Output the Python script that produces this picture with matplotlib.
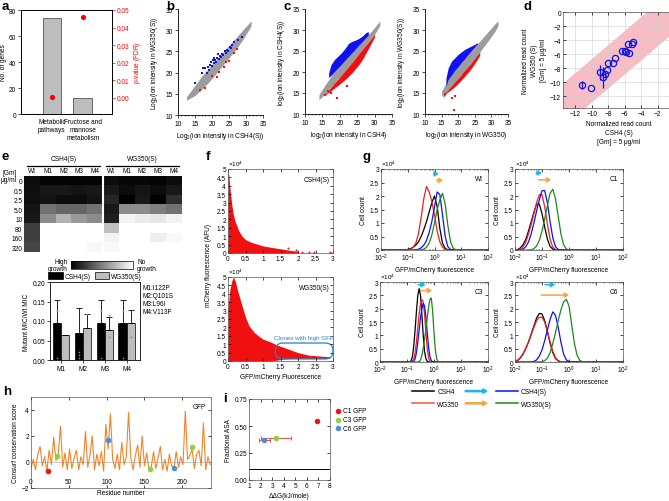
import numpy as np
import matplotlib
matplotlib.use('Agg')
import matplotlib.pyplot as plt
import matplotlib.patches as mpatches
from matplotlib.lines import Line2D
from matplotlib.legend_handler import HandlerPatch
from matplotlib.ticker import FormatStrFormatter, MultipleLocator, LogLocator, NullFormatter

plt.rcParams['font.family'] = ['Liberation Sans', 'DejaVu Sans']
plt.rcParams['font.size'] = 4.7
plt.rcParams['axes.linewidth'] = 0.6
plt.rcParams['xtick.major.width'] = 0.5
plt.rcParams['ytick.major.width'] = 0.5
plt.rcParams['xtick.major.size'] = 2
plt.rcParams['ytick.major.size'] = 2
plt.rcParams['xtick.minor.size'] = 1
plt.rcParams['ytick.minor.size'] = 1
plt.rcParams['xtick.minor.width'] = 0.4
plt.rcParams['ytick.minor.width'] = 0.4
plt.rcParams['xtick.major.pad'] = 1.5
plt.rcParams['ytick.major.pad'] = 1.5
plt.rcParams['axes.labelpad'] = 2
plt.rcParams['mathtext.fontset'] = 'custom'
plt.rcParams['mathtext.rm'] = 'Liberation Sans'
plt.rcParams['mathtext.it'] = 'Liberation Sans:italic'
plt.rcParams['mathtext.default'] = 'regular'

# ---------------- data ----------------
# a: enriched pathways
a_terms = ['Metabolic\npathways', 'Fructose and\nmannose\nmetabolism']
a_genes = [74, 12]
a_fdr = [0.0007, 0.046]

# b: WG350(S) vs CSH4(S)
b_band_x = [12.5, 15, 17, 19, 21, 23, 25, 27, 29, 31.5]
b_band_lo = [13.5, 14.6, 16.1, 17.7, 19.6, 21.5, 23.5, 25.5, 27.7, 31.0]
b_band_hi = [14.3, 17.0, 19.2, 21.0, 22.8, 24.6, 26.4, 28.2, 30.0, 32.2]
b_blue_x = [15.1, 17.0, 17.3, 18.0, 18.5, 18.8, 19.0, 19.5, 19.8, 20.0, 20.3, 20.5, 20.7, 21.0,
            21.3, 21.6, 21.8, 22.0, 22.3, 22.6, 23.0, 23.3, 23.7, 24.0, 24.4, 24.8, 25.2, 25.6,
            26.0, 26.6, 27.5, 28.7]
b_blue_y = [17.6, 20.0, 21.2, 21.0, 19.9, 21.3, 20.6, 21.8, 22.5, 21.5, 22.9, 23.5, 22.2, 23.0,
            22.6, 23.5, 24.3, 23.2, 24.0, 23.6, 24.5, 24.1, 25.0, 24.6, 25.4, 25.2, 26.0, 25.8,
            26.5, 27.1, 27.6, 28.3]
b_red_x = [16.6, 18.0, 20.0, 21.5, 22.0, 23.5, 24.0, 25.0, 26.5, 27.4]
b_red_y = [15.8, 16.3, 19.3, 19.0, 20.2, 21.3, 22.4, 22.7, 24.7, 25.6]

# c (left): CSH4(S) vs CSH4
c1_band_x = [14, 16, 18, 20, 22, 24, 26, 28, 30, 31.5]
c1_band_lo = [13.4, 15.0, 16.9, 18.8, 20.8, 22.8, 24.9, 26.9, 29.0, 31.0]
c1_band_hi = [14.6, 17.2, 19.5, 21.5, 23.3, 25.1, 26.9, 28.7, 30.6, 32.2]
c1_blue_x = [16.8, 17.5, 18.5, 19.5, 20.5, 21.5, 22.5, 23.5, 24.5, 25.5, 26.5, 27.5, 28.2]
c1_blue_lo = [18.7, 19.2, 20.1, 21.0, 21.9, 22.8, 23.7, 24.6, 25.5, 26.4, 27.3, 28.2, 28.8]
c1_blue_hi = [19.8, 21.8, 23.0, 23.8, 24.6, 25.6, 26.8, 27.3, 27.6, 28.0, 28.6, 29.4, 29.6]
c1_red_x = [15.5, 16.5, 17.5, 18.5, 19.5, 20.5, 21.5, 22.5, 23.5, 24.5, 25.5, 26.5, 27.5, 28.5, 30.0]
c1_red_hi = [14.5, 15.4, 16.4, 17.4, 18.3, 19.3, 20.3, 21.3, 22.3, 23.3, 24.4, 25.4, 26.4, 27.4, 29.0]
c1_red_lo = [14.3, 15.0, 15.5, 16.3, 16.8, 17.5, 18.2, 19.0, 19.8, 20.8, 21.8, 23.0, 24.5, 26.0, 28.4]
c1_red_dot_x = [15.7, 16.7, 17.4, 18.3, 19.1, 22.1]
c1_red_dot_y = [14.5, 15.5, 14.9, 16.1, 13.8, 16.6]

# c (right): WG350(S) vs WG350
c2_band_x = [15, 17, 19, 21, 23, 25, 27, 29, 31, 32]
c2_band_lo = [14.2, 15.8, 17.6, 19.5, 21.4, 23.3, 25.3, 27.4, 29.6, 31.0]
c2_band_hi = [15.5, 18.2, 20.4, 22.3, 24.2, 26.0, 27.8, 29.6, 31.4, 32.2]
c2_blue_x = [16.3, 17, 18, 19, 20, 21, 22, 23, 24, 25, 25.8]
c2_blue_lo = [16.6, 18.2, 19.3, 20.4, 21.3, 22.3, 23.2, 24.2, 25.1, 26.0, 26.7]
c2_blue_hi = [18.5, 21.0, 22.6, 23.4, 24.2, 24.8, 25.4, 25.8, 26.2, 26.6, 27.0]
c2_red_x = [15.5, 16.5, 17.5, 18.5, 19.5, 20.5, 21.5, 22.5, 23.5, 24.5, 25.5, 26.5]
c2_red_hi = [14.6, 15.4, 16.3, 17.2, 18.1, 19.0, 20.0, 20.9, 21.8, 22.8, 23.8, 24.8]
c2_red_lo = [14.0, 15.0, 15.6, 16.2, 16.9, 17.7, 18.6, 19.5, 20.4, 21.5, 22.7, 24.0]
c2_red_dot_x = [18.6, 18.2, 19.0, 16.0]
c2_red_dot_y = [11.0, 13.8, 14.3, 14.8]

# d: normalized read counts
d_band_x = [-14, 0]
d_band_hi = [-10.6, 3.4]
d_band_lo = [-16.8, -2.8]
d_x = [-11.25, -10.1, -9.0, -8.6, -8.4, -8.15, -8.0, -7.4, -7.2, -6.3, -6.0, -5.8, -5.6, -5.5, -5.1, -5.0]
d_y = [-10.4, -10.9, -8.6, -9.3, -8.9, -8.3, -7.3, -7.3, -6.6, -5.5, -5.6, -5.7, -4.5, -5.8, -4.6, -4.3]
d_err = [0.6, 0, 1.1, 1.5, 0.3, 0, 0, 0, 0, 0, 0, 0, 0, 0, 0, 0]

# e: MIC heatmap and bar chart
e_conc = ['0', '0.5', '2.5', '5.0', '10', '80', '160', '320']
e_cols = ['Wt', 'M1', 'M2', 'M3', 'M4', 'Wt', 'M1', 'M2', 'M3', 'M4']
e_growth = [
    [0.95, 0.98, 0.98, 0.98, 0.98, 0.95, 0.97, 0.97, 0.98, 0.95],
    [0.94, 0.90, 0.90, 0.92, 0.90, 0.90, 0.95, 0.92, 0.95, 0.90],
    [0.94, 0.92, 0.95, 0.95, 0.92, 0.85, 1.00, 0.90, 1.00, 0.82],
    [0.92, 0.55, 0.60, 0.60, 0.55, 0.90, 0.45, 0.45, 0.50, 0.55],
    [0.90, 0.45, 0.30, 0.40, 0.45, 0.88, 0.05, 0.08, 0.10, 0.05],
    [0.75, 0.00, 0.00, 0.00, 0.00, 0.25, 0.00, 0.00, 0.00, 0.00],
    [0.75, 0.00, 0.00, 0.00, 0.00, 0.05, 0.00, 0.00, 0.07, 0.03],
    [0.73, 0.00, 0.00, 0.00, 0.03, 0.03, 0.00, 0.00, 0.00, 0.00],
]
e_mut = ['M1', 'M2', 'M3', 'M4']
e_csh = [0.096, 0.069, 0.096, 0.096]
e_csh_err = [0.059, 0.065, 0.059, 0.059]
e_wg = [0.063, 0.083, 0.078, 0.094]
e_wg_err = [0.0, 0.036, 0.031, 0.035]
e_dots_csh = [[0.125, 0.005], [0.005, 0.013, 0.021], [0.125, 0.005], [0.125, 0.005]]
e_dots_wg = [[], [0.118], [0.115, 0.06], [0.06]]
e_mutations = 'M1:I122P\nM2:Q101S\nM3:L96I\nM4:V113F'

# f: mCherry vs GFP/mCherry (units of 1e4)
f_top_x = [0, 0.03, 0.06, 0.1, 0.15, 0.2, 0.3, 0.4, 0.5, 0.65, 0.8, 1.0, 1.2, 1.4, 1.6, 1.8, 2.0]
f_top_hi = [5.0, 4.5, 3.8, 3.0, 2.3, 1.9, 1.35, 1.0, 0.8, 0.65, 0.55, 0.42, 0.35, 0.28, 0.22, 0.15, 0.1]
f_top_dot_x = [1.7, 1.95, 2.1, 2.3, 2.45, 2.9]
f_top_dot_y = [0.3, 0.2, 0.08, 0.05, 0.05, 0.03]
f_bot_x = [0, 0.05, 0.1, 0.15, 0.2, 0.3, 0.4, 0.5, 0.6, 0.75, 0.9, 1.0, 1.2, 1.4, 1.6, 1.8, 2.0, 2.3, 2.6, 2.9]
f_bot_hi = [3.1, 4.2, 4.7, 5.0, 4.8, 4.0, 3.3, 2.6, 2.1, 1.7, 1.45, 1.3, 1.15, 0.95, 0.8, 0.65, 0.5, 0.35, 0.3, 0.25]
f_bot_lo = [0, 0, 0, 0, 0, 0, 0, 0, 0, 0, 0, 0, 0, 0.05, 0.12, 0.15, 0.15, 0.15, 0.15, 0.15]
f_box = [1.35, 0.12, 3.0, 1.07]   # x0, y0, x1, y1 of high-GFP clones

# g: histograms (log10 of GFP/mCherry, cell count in 1e4)
g_wt_logx = [-2, -1.2, -1.1, -1.0, -0.9, -0.8, -0.7, -0.6, -0.5, -0.4, -0.3, -0.2, -0.1, 0.0,
             0.1, 0.2, 0.3, 0.4, 0.5, 0.6, 0.7, 0.8, 2]
g_wt = {
    'CSH4': [0, 0, 0.01, 0.02, 0.05, 0.1, 0.18, 0.3, 0.5, 0.75, 1.05, 1.4, 1.75, 2.0, 1.6, 0.8, 0.25, 0.06, 0.01, 0, 0, 0, 0],
    'WG350': [0, 0, 0, 0.01, 0.03, 0.1, 0.25, 0.6, 1.2, 1.9, 2.35, 2.15, 1.8, 1.3, 0.7, 0.3, 0.1, 0.02, 0, 0, 0, 0, 0],
    'CSH4(S)': [0, 0, 0, 0, 0, 0, 0.01, 0.03, 0.08, 0.18, 0.35, 0.65, 1.05, 1.6, 2.15, 2.05, 1.3, 0.5, 0.12, 0.02, 0, 0, 0],
    'WG350(S)': [0, 0, 0, 0, 0, 0, 0, 0, 0.01, 0.03, 0.1, 0.25, 0.55, 1.0, 1.5, 1.85, 2.1, 1.7, 0.9, 0.3, 0.06, 0.01, 0],
}
g_c1_logx = [-2.0, -1.9, -1.8, -1.7, -1.6, -1.5, -1.4, -1.3, -1.2, -1.1, -1.0, -0.9, -0.8, -0.7,
             -0.6, -0.5, -0.4, -0.3, -0.2, -0.1, 0.0, 2.0]
g_c1 = {
    'CSH4': [0, 0.02, 0.08, 0.2, 0.4, 0.7, 1.05, 1.4, 1.7, 1.7, 1.35, 0.85, 0.4, 0.13, 0.03, 0, 0, 0, 0, 0, 0, 0],
    'WG350': [0, 0.01, 0.04, 0.12, 0.3, 0.6, 0.95, 1.35, 1.75, 2.05, 2.05, 1.6, 0.95, 0.4, 0.1, 0.02, 0, 0, 0, 0, 0, 0],
    'CSH4(S)': [0, 0, 0.01, 0.04, 0.12, 0.3, 0.6, 1.0, 1.45, 1.85, 2.2, 2.2, 1.75, 1.05, 0.45, 0.12, 0.02, 0, 0, 0, 0, 0],
    'WG350(S)': [0, 0, 0, 0, 0, 0, 0.01, 0.05, 0.15, 0.35, 0.7, 1.15, 1.65, 2.1, 2.25, 1.9, 1.25, 0.6, 0.2, 0.04, 0, 0],
}
g_c3_logx = [-2.0, -1.0, -0.95, -0.9, -0.85, -0.8, -0.75, -0.7, -0.65, -0.6, -0.55, -0.5, -0.45,
             -0.4, -0.35, -0.3, -0.25, -0.2, -0.15, -0.1, -0.05, 0.0, 0.05, 0.1, 0.15, 0.2, 0.25, 0.3, 2.0]
g_c3 = {
    'CSH4': [0, 0, 0, 0.01, 0.05, 0.2, 0.6, 1.2, 1.9, 2.5, 2.75, 2.5, 1.8, 1.0, 0.4, 0.12, 0.03, 0, 0, 0, 0, 0, 0, 0, 0, 0, 0, 0, 0],
    'WG350': [0, 0, 0, 0, 0.01, 0.03, 0.12, 0.35, 0.75, 1.3, 1.8, 2.2, 2.35, 2.25, 1.8, 1.1, 0.5, 0.15, 0.03, 0, 0, 0, 0, 0, 0, 0, 0, 0, 0],
    'CSH4(S)': [0, 0, 0, 0, 0, 0.01, 0.03, 0.12, 0.35, 0.75, 1.2, 1.65, 2.0, 2.2, 2.1, 1.7, 1.1, 0.55, 0.2, 0.05, 0.01, 0, 0, 0, 0, 0, 0, 0, 0],
    'WG350(S)': [0, 0, 0, 0, 0, 0, 0, 0, 0, 0, 0.02, 0.08, 0.25, 0.5, 0.85, 1.25, 1.65, 2.05, 2.35, 2.4, 1.9, 1.1, 0.45, 0.12, 0.02, 0, 0, 0, 0],
}
g_c6_logx = [-2.0, -1.9, -1.8, -1.7, -1.6, -1.5, -1.4, -1.3, -1.2, -1.1, -1.0, -0.9, -0.8, -0.7,
             -0.6, -0.5, -0.4, -0.3, -0.2, -0.1, 0.0, 0.1, 0.2, 0.3, 0.4, 0.5, 0.6, 2.0]
g_c6 = {
    'CSH4': [0.02, 0.06, 0.15, 0.3, 0.5, 0.75, 1.05, 1.35, 1.65, 1.82, 1.8, 1.55, 1.15, 0.7, 0.35, 0.13, 0.04, 0.01, 0, 0, 0, 0, 0, 0, 0, 0, 0, 0],
    'WG350': [0.03, 0.07, 0.17, 0.32, 0.52, 0.76, 1.02, 1.3, 1.55, 1.68, 1.68, 1.5, 1.15, 0.75, 0.4, 0.16, 0.05, 0.01, 0, 0, 0, 0, 0, 0, 0, 0, 0, 0],
    'CSH4(S)': [0, 0, 0, 0, 0, 0, 0, 0.02, 0.08, 0.22, 0.45, 0.8, 1.2, 1.6, 1.88, 1.75, 1.3, 0.75, 0.3, 0.08, 0.02, 0, 0, 0, 0, 0, 0, 0],
    'WG350(S)': [0, 0, 0, 0, 0, 0, 0, 0, 0, 0, 0.01, 0.05, 0.15, 0.35, 0.7, 1.1, 1.55, 1.95, 2.25, 2.35, 2.1, 1.4, 0.7, 0.25, 0.06, 0.01, 0, 0],
}
# arrows: (x start, x end, y) for CSH4->CSH4(S) and WG350->WG350(S)
g_arrows = {
    'Wt': [(0.95, 1.45, 2.82), (1.2, 2.1, 2.58)],
    'C1': [(0.061, 0.1, 2.85), (0.075, 0.22, 2.6)],
    'C3': [(0.26, 0.49, 2.9), (0.32, 0.85, 2.68)],
    'C6': [(0.13, 0.31, 2.9), (0.093, 1.0, 2.51)],
}
g_colors = {'CSH4': 'black', 'WG350': '#f02020', 'CSH4(S)': '#1010f0', 'WG350(S)': '#1a8a1a'}

# h: consurf conservation score
h_res = list(range(0, 238, 3))
h_score = [-0.5, 0.2, -0.6, 0.6, 1.2, -0.3, 0.4, -0.7, 0.9, -0.2, 1.9, 0.1, 0.6, 2.75, -0.4, 0.7,
           -0.6, 1.0, -0.5, 0.3, 0.9, -0.6, 0.4, -0.2, 2.35, -0.4, 0.5, 2.0, -0.6, 0.6, -0.3, 0.8,
           -0.7, 2.9, 1.0, 3.7, 0.2, -0.5, 0.6, -0.6, 1.5, -0.2, 0.4, 3.8, 0.3, -0.6, 0.5, 1.3,
           -0.4, 2.0, -0.3, 0.7, -0.6, -0.4, 0.8, -0.5, 0.3, 1.2, -0.6, 0.2, -0.7, 0.6, -0.3, -0.5,
           0.8, -0.4, 0.4, -0.2, 3.9, 0.2, 0.5, 1.0, -0.5, 0.6, 0.9, -0.3, 3.0, -0.6, 0.4, -0.2]
h_pts = {
    'C1': ([22], [-0.7], '#e81818'),
    'C3': ([35, 158, 213], [0.5, -0.55, 1.15], '#8fd13f'),
    'C6': ([102, 189], [1.7, -0.45], '#4a8fd8'),
}

# i: fractional ASA vs ddG
i_names = ['C1 GFP', 'C3 GFP', 'C6 GFP']
i_ddg = [6.9, 3.35, 2.3]
i_asa = [0.55, 0.39, 0.37]
i_xerr_lo = [0, 1.35, 0.45]
i_xerr_hi = [0, 1.3, 0.5]
i_colors = ['#e81818', '#8fd13f', '#4a8fd8']
i_cut = 0.1

# ---------------- layout helpers ----------------
W, H = 669, 502
fig = plt.figure(figsize=(W / 100, H / 100), dpi=100)


def px_ax(l, t, r, b):
    return fig.add_axes([l / W, 1 - b / H, (r - l) / W, (b - t) / H])


def letter(x, y, s):
    fig.text(x / W, 1 - y / H, s, fontsize=9.5, fontweight='bold', va='baseline', ha='left')


def matlab_box(ax):
    ax.tick_params(direction='in', top=True, right=True, which='both')
    for s in ax.spines.values():
        s.set_color('#555555')
        s.set_linewidth(0.5)


# ---------------- a ----------------
ax = px_ax(21, 11, 112, 115)
ax.bar(range(len(a_genes)), a_genes, width=0.6, color='#bdbdbd', edgecolor='#555555', linewidth=0.6)
ax.set_xlim(-1, 1.95)
ax.set_ylim(0, 80)
ax.set_yticks(range(0, 81, 20))
ax.set_xticks(range(len(a_terms)))
ax.set_xticklabels(a_terms)
ax.tick_params(axis='x', length=0, pad=3)
ax.set_ylabel('No. of genes', labelpad=1)
ax2 = ax.twinx()
ax2.scatter(range(len(a_fdr)), a_fdr, color='red', s=14, zorder=3, lw=0)
ax2.set_ylim(-0.0091, 0.05)
ax2.set_yticks(np.arange(0, 0.051, 0.01))
ax2.yaxis.set_major_formatter(FormatStrFormatter('%.2f'))
ax2.tick_params(axis='y', colors='red', labelcolor='red')
ax2.spines['right'].set_color('black')
ax2.set_ylabel('$\\it{p}$-value (FDR)', color='red')
letter(2, 10, 'a')


# ---------------- b, c ----------------
def ion_axes(box, xlabel, ylabel):
    ax = px_ax(*box)
    ax.set_xlim(10, 35)
    ax.set_ylim(10, 35)
    ax.set_xticks(range(10, 36, 5))
    ax.set_yticks(range(10, 36, 5))
    ax.xaxis.set_minor_locator(MultipleLocator(1))
    ax.spines['top'].set_visible(False)
    ax.spines['right'].set_visible(False)
    ax.set_xlabel(xlabel)
    ax.set_ylabel(ylabel, labelpad=4)
    return ax


ax = ion_axes((178, 10, 263, 116), 'Log$_2$(ion intensity in CSH4(S))', 'Log$_2$(ion intensity in WG350(S))')
ax.fill_between(b_band_x, b_band_lo, b_band_hi, color='#9c9c9c', lw=0)
ax.scatter(b_blue_x, b_blue_y, s=3, color='#1010f0', lw=0, marker='s')
ax.scatter(b_red_x, b_red_y, s=3, color='#f01010', lw=0, marker='s')
letter(166, 10, 'b')

ax = ion_axes((305, 10, 392, 115), 'log$_2$(ion intensity in CSH4)', 'log$_2$(ion intensity in CSH4(S))')
ax.fill_between(c1_band_x, c1_band_lo, c1_band_hi, color='#9c9c9c', lw=0)
ax.fill_between(c1_blue_x, c1_blue_lo, c1_blue_hi, color='#1010f0', lw=0)
ax.fill_between(c1_red_x, c1_red_lo, c1_red_hi, color='#f01010', lw=0)
ax.scatter(c1_red_dot_x, c1_red_dot_y, s=3, color='#f01010', lw=0, marker='s')
letter(283, 10, 'c')

ax = ion_axes((425, 10, 508, 115), 'log$_2$(ion intensity in WG350)', 'log$_2$(ion intensity in WG350(S))')
ax.fill_between(c2_band_x, c2_band_lo, c2_band_hi, color='#9c9c9c', lw=0)
ax.fill_between(c2_blue_x, c2_blue_lo, c2_blue_hi, color='#1010f0', lw=0)
ax.fill_between(c2_red_x, c2_red_lo, c2_red_hi, color='#f01010', lw=0)
ax.scatter(c2_red_dot_x, c2_red_dot_y, s=3, color='#f01010', lw=0, marker='s')

# ---------------- d ----------------
ax = px_ax(563, 13, 674, 109)
ax.fill_between(d_band_x, d_band_lo, d_band_hi, color='#f7bcc4', lw=0, zorder=0)
ax.errorbar(d_x, d_y, yerr=d_err, fmt='o', mfc='none', mec='#1010f0', ecolor='#1010f0',
            ms=4.5, mew=0.9, elinewidth=0.9, capsize=0, zorder=3)
ax.set_xlim(-13.5, 0)
ax.set_ylim(-13.7, 0)
ax.set_xticks(range(-12, 1, 2))
ax.set_yticks(range(-12, 1, 2))
ax.grid(True, color='#d0d0d0', lw=0.4)
ax.set_axisbelow(True)
matlab_box(ax)
ax.set_xlabel('Normalized read count\nCSH4 (S)\n[Gm] = 5 μg/ml', linespacing=1.4)
ax.set_ylabel('Normalized read count\nWG350 (S)\n[Gm] = 5 μg/ml', linespacing=1.4)
letter(524, 10, 'd')

# ---------------- e heatmap ----------------
ax = px_ax(24, 177, 182, 253)
im = ax.imshow(e_growth, cmap='gray_r', vmin=0, vmax=1, aspect='auto', interpolation='nearest')
ax.axvline(len(e_cols) / 2 - 0.5, color='white', lw=1.5)
ax.xaxis.tick_top()
ax.set_xticks(range(len(e_cols)))
ax.set_xticklabels(e_cols)
ax.set_yticks(range(len(e_conc)))
ax.set_yticklabels(e_conc)
ax.tick_params(length=0, pad=1.2)
for s in ax.spines.values():
    s.set_visible(False)
half = len(e_cols) / 2
for k, name in enumerate(['CSH4(S)', 'WG350(S)']):
    ax.plot([k * half - 0.3, (k + 1) * half - 0.7], [-1.6, -1.6], color='black', lw=0.9, clip_on=False)
    ax.text(k * half + half / 2 - 0.5, -2.3, name, ha='center', va='center')
ax.set_xlim(-0.5, len(e_cols) - 0.5)
ax.set_ylim(len(e_conc) - 0.5, -0.5)
ax.text(-0.95, -0.55, '[Gm]\nμg/ml', ha='right', va='center', linespacing=1.0)
letter(2, 160, 'e')

cax = px_ax(71, 262, 133, 270)
cb = fig.colorbar(im, cax=cax, orientation='horizontal', ticks=[])
cax.invert_xaxis()
cb.outline.set_linewidth(0.5)
fig.text(68 / W, 1 - 266 / H, 'High\ngrowth', ha='right', va='center', linespacing=1.1)
fig.text(137 / W, 1 - 266 / H, 'No\ngrowth', ha='left', va='center', linespacing=1.1)

# ---------------- e bars ----------------
ax = px_ax(50, 283, 140, 361)
pos = np.arange(1, len(e_mut) + 1)
ax.bar(pos - 0.19, e_csh, width=0.38, color='black', edgecolor='black', lw=0.5,
       yerr=[[0] * 4, e_csh_err], error_kw=dict(lw=0.6, capsize=2.5, capthick=0.6), label='CSH4(S)')
ax.bar(pos + 0.19, e_wg, width=0.38, color='#bdbdbd', edgecolor='black', lw=0.5,
       yerr=[[0] * 4, e_wg_err], error_kw=dict(lw=0.6, capsize=2.5, capthick=0.6), label='WG350(S)')
for k in range(len(e_mut)):
    ax.scatter([pos[k] - 0.19] * len(e_dots_csh[k]), e_dots_csh[k], s=1.5, color='#888888', lw=0, zorder=4)
    ax.scatter([pos[k] + 0.19] * len(e_dots_wg[k]), e_dots_wg[k], s=1.5, color='#888888', lw=0, zorder=4)
ax.set_xlim(0.5, 4.6)
ax.set_ylim(0, 0.2)
ax.set_yticks(np.arange(0, 0.201, 0.05))
ax.yaxis.set_major_formatter(FormatStrFormatter('%.2f'))
ax.set_xticks(pos)
ax.set_xticklabels(e_mut)
ax.set_ylabel('Mutant MIC/Wt MIC')
ax.legend(ncol=2, loc='center', bbox_to_anchor=(0.5, 1.08), frameon=False,
          handlelength=2.2, handleheight=1.2, columnspacing=0.6, handletextpad=0.3, borderaxespad=0)
ax.text(1.03, 0.98, e_mutations, transform=ax.transAxes, ha='left', va='top', linespacing=1.25)

# ---------------- f ----------------
for box, fx, fhi, flo, dx, dy, name in [
        ((228, 170, 333, 254), f_top_x, f_top_hi, 0, f_top_dot_x, f_top_dot_y, 'CSH4(S)'),
        ((228, 278, 333, 362), f_bot_x, f_bot_hi, f_bot_lo, [], [], 'WG350(S)')]:
    ax = px_ax(*box)
    ax.fill_between(fx, flo, fhi, color='#f01010', lw=0)
    ax.scatter(dx, dy, s=2, color='#f01010', lw=0)
    ax.set_xlim(0, 3)
    ax.set_ylim(0, 5)
    ax.set_xticks(np.arange(0, 3.01, 0.5))
    ax.set_xticklabels(['0', '0.5', '1', '1.5', '2', '2.5', '3'])
    ax.set_yticks(np.arange(0, 5.01, 0.5))
    ax.set_yticklabels(['0', '0.5', '1', '1.5', '2', '2.5', '3', '3.5', '4', '4.5', '5'])
    matlab_box(ax)
    ax.text(0.0, 1.01, '×10$^4$', transform=ax.transAxes, ha='left', va='bottom', fontsize=4.5)
    ax.text(0.97, 0.92, name, transform=ax.transAxes, ha='right', va='top')
fbox = mpatches.FancyBboxPatch((f_box[0], f_box[1]), f_box[2] - f_box[0], f_box[3] - f_box[1],
                               boxstyle='round,pad=0,rounding_size=0.22', mutation_aspect=2.1,
                               fill=False, ec='#2a7fd4', lw=0.9, clip_on=False)
ax.add_patch(fbox)
ax.text(f_box[0] - 0.05, f_box[3] + 0.2, 'Clones with high GFP', color='#2a7fd4', ha='left', va='bottom', fontsize=4.5)
ax.set_xlabel('GFP/mCherry Fluorescence')
fig.text(209 / W, 1 - 266 / H, 'mCherry fluorescence (AFU)', rotation=90, ha='center', va='center')
letter(206, 160, 'f')

# ---------------- g ----------------
g_panels = [('Wt', (381, 170, 488, 251), g_wt_logx, g_wt),
            ('C1', (515, 170, 623, 251), g_c1_logx, g_c1),
            ('C3', (380, 283, 488, 363), g_c3_logx, g_c3),
            ('C6', (515, 283, 623, 363), g_c6_logx, g_c6)]
for name, box, logx, curves in g_panels:
    ax = px_ax(*box)
    gx = np.power(10.0, logx)
    for key in ['CSH4', 'WG350', 'CSH4(S)', 'WG350(S)']:
        ax.plot(gx, curves[key], color=g_colors[key], lw=0.9)
    for (x0, x1, y), col in zip(g_arrows[name], ['#1ab4f0', '#f7a540']):
        ax.annotate('', xy=(x1, y), xytext=(x0, y),
                    arrowprops=dict(arrowstyle='-|>,head_length=0.5,head_width=0.3', color=col, lw=1.1,
                                    shrinkA=0, shrinkB=0))
    ax.set_xscale('log')
    ax.set_xlim(1e-2, 1e2)
    ax.set_ylim(0, 3)
    ax.set_xticks([1e-2, 1e-1, 1e0, 1e1, 1e2])
    ax.xaxis.set_minor_locator(LogLocator(base=10, subs=np.arange(2, 10), numticks=20))
    ax.xaxis.set_minor_formatter(NullFormatter())
    ax.set_yticks(np.arange(0, 3.01, 0.5))
    ax.set_yticklabels(['0', '0.5', '1', '1.5', '2', '2.5', '3'])
    matlab_box(ax)
    ax.text(0.0, 1.01, '×10$^4$', transform=ax.transAxes, ha='left', va='bottom', fontsize=4.5)
    ax.text(0.95, 0.93, name, transform=ax.transAxes, ha='right', va='top')
    ax.set_ylabel('Cell count')
    ax.set_xlabel('GFP/mCherry fluorescence')
letter(362, 160, 'g')


def make_arrow(legend, orig_handle, xdescent, ydescent, width, height, fontsize):
    return mpatches.FancyArrow(0, height / 2, width, 0, width=height * 0.25, head_width=height * 1.0,
                               head_length=height * 0.9, length_includes_head=True, lw=0)


arr_c = mpatches.Patch(color='#1ab4f0')
arr_o = mpatches.Patch(color='#f7a540')
handles = [Line2D([], [], color='black', lw=1.1), Line2D([], [], color='#e8583a', lw=1.1),
           arr_c, arr_o,
           Line2D([], [], color=g_colors['CSH4(S)'], lw=1.1), Line2D([], [], color=g_colors['WG350(S)'], lw=1.1)]
labels = ['CSH4', 'WG350', '', '', 'CSH4(S)', 'WG350(S)']
fig.legend(handles, labels, ncol=3, loc='center', bbox_to_anchor=(482 / W, 1 - 399 / H), frameon=False,
           handlelength=3.3, columnspacing=0.9, handletextpad=0.5, labelspacing=0.8,
           handler_map={arr_c: HandlerPatch(patch_func=make_arrow), arr_o: HandlerPatch(patch_func=make_arrow)})

# ---------------- h ----------------
ax = px_ax(31, 398, 211, 489)
ax.axhline(0, color='#b0b0b0', lw=0.5)
ax.plot(h_res, h_score, color='#f0842a', lw=0.8)
for key, (rx, ry, col) in h_pts.items():
    ax.scatter(rx, ry, s=16, color=col, lw=0, zorder=4)
ax.set_xlim(0, 238)
ax.set_ylim(-2, 5)
ax.set_yticks([-2, 0, 2, 4])
ax.set_xticks([0, 50, 100, 150, 200])
matlab_box(ax)
ax.tick_params(axis='x', pad=-7)
ax.text(0.97, 0.93, 'GFP', transform=ax.transAxes, ha='right', va='top')
ax.set_xlabel('Residue number', labelpad=1)
ax.set_ylabel('Consurf conservation score')
letter(3, 395, 'h')

# ---------------- i ----------------
ax = px_ax(249, 400, 330, 481)
ax.axhline(i_cut, color='black', lw=0.7)
for k in range(len(i_names)):
    ax.errorbar([i_ddg[k]], [i_asa[k]], xerr=[[i_xerr_lo[k]], [i_xerr_hi[k]]], fmt='none',
                ecolor='#e05050', elinewidth=0.7, capsize=1.5, capthick=0.7)
    ax.scatter([i_ddg[k]], [i_asa[k]], s=16, color=i_colors[k], lw=0, zorder=4, label=i_names[k])
ax.set_xlim(1, 8)
ax.set_ylim(0, 0.75)
ax.set_xticks(range(1, 9))
ax.set_yticks([0, 0.25, 0.5, 0.75])
ax.yaxis.set_major_formatter(FormatStrFormatter('%.2f'))
matlab_box(ax)
ax.set_xlabel('ΔΔG(kJ/mole)')
ax.set_ylabel('Fractional ASA')
ax.legend(loc='upper left', bbox_to_anchor=(1.02, 0.93), frameon=False, handletextpad=0.1,
          labelspacing=0.3, borderaxespad=0, handlelength=1.2)
letter(223, 402, 'i')

fig.savefig('out.png', dpi=100)
